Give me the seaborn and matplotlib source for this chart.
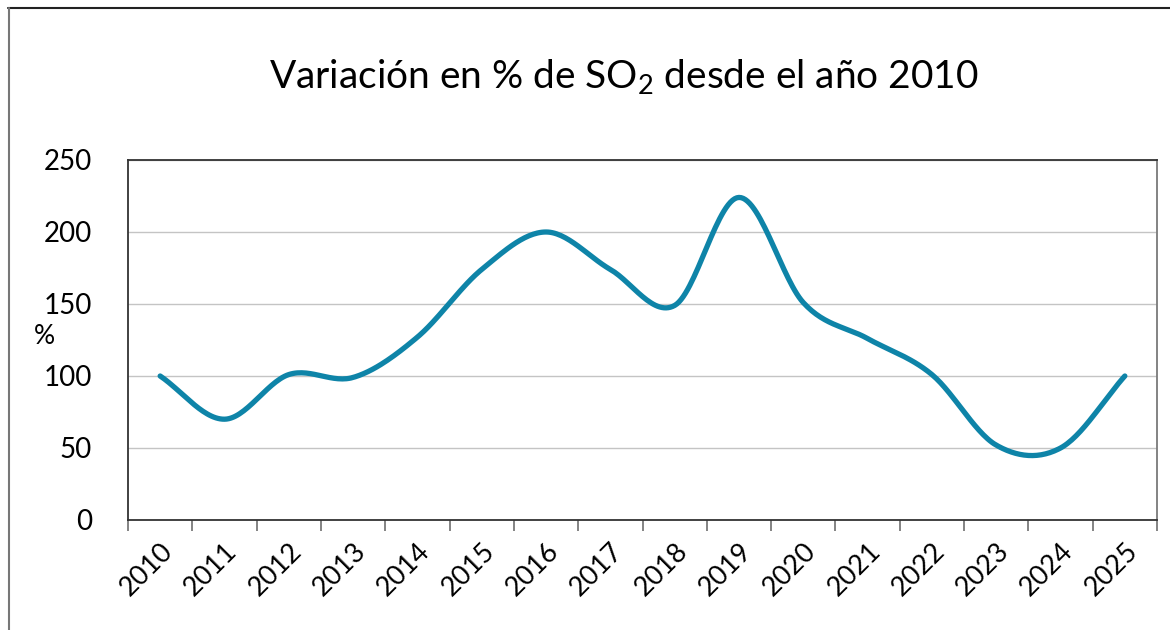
import numpy as np
import pandas as pd
import matplotlib
matplotlib.use('Agg')
import matplotlib.pyplot as plt
from matplotlib.lines import Line2D
import seaborn as sns

# Data
years = ['2010', '2011', '2012', '2013', '2014', '2015', '2016', '2017',
         '2018', '2019', '2020', '2021', '2022', '2023', '2024', '2025']
variation = [100, 70, 101, 99, 127, 174, 200, 174,
             149, 224, 151, 126, 101, 52, 50, 100]

title_text = 'Variación en % de SO$\\mathregular{_2}$ desde el año 2010'
line_color = '#0e84a8'

sns.set_theme(style='white')
plt.rcParams['font.family'] = ['Lato', 'DejaVu Sans']
plt.rcParams['mathtext.fontset'] = 'custom'
plt.rcParams['mathtext.rm'] = 'Lato'


def smooth_curve(y, steps=30):
    # Catmull-Rom smoothing, same look as a smoothed spreadsheet line
    y = np.asarray(y, dtype=float)
    n = len(y)
    pad = np.concatenate([[2 * y[0] - y[1]], y, [2 * y[-1] - y[-2]]])
    xs, ys = [], []
    for i in range(n - 1):
        p0, p1, p2, p3 = pad[i], pad[i + 1], pad[i + 2], pad[i + 3]
        m1 = (p2 - p0) / 2
        m2 = (p3 - p1) / 2
        t = np.linspace(0, 1, steps, endpoint=(i == n - 2))
        h00 = 2 * t**3 - 3 * t**2 + 1
        h10 = t**3 - 2 * t**2 + t
        h01 = -2 * t**3 + 3 * t**2
        h11 = t**3 - t**2
        xs.append(i + t)
        ys.append(h00 * p1 + h10 * m1 + h01 * p2 + h11 * m2)
    return np.concatenate(xs), np.concatenate(ys)


sx, sy = smooth_curve(variation)
df = pd.DataFrame({'pos': sx, 'valor': sy})

fig = plt.figure(figsize=(11.7, 6.3), dpi=100)
ax = fig.add_axes([128 / 1170, 1 - 520 / 630, 1029 / 1170, 360 / 630])

sns.lineplot(data=df, x='pos', y='valor', ax=ax, color=line_color,
             linewidth=3.8, solid_capstyle='round', sort=False)

ax.set_xlim(-0.5, len(years) - 0.5)
ax.set_ylim(0, 250)
ax.set_yticks([0, 50, 100, 150, 200, 250])
ax.yaxis.grid(True, color='#c4c4c4', linewidth=1)
ax.set_axisbelow(True)

ax.set_xticks(range(len(years)))
ax.set_xticklabels(years, rotation=45, ha='right', rotation_mode='anchor')
ax.set_xticks(np.arange(-0.5, len(years)), minor=True)
ax.tick_params(axis='x', which='major', length=0, pad=13, labelsize=19.5,
               colors='black')
ax.tick_params(axis='x', which='minor', length=8, width=1.2, color='#6e6e6e',
               bottom=True)
ax.tick_params(axis='y', length=0, pad=26, labelsize=20, colors='black')

for side in ['left', 'top', 'bottom']:
    ax.spines[side].set_color('#333333')
    ax.spines[side].set_linewidth(1.3)
ax.spines['right'].set_color('#7a7a7a')
ax.spines['right'].set_linewidth(1.3)

ax.set_xlabel('')
ax.set_ylabel('%', rotation=0, fontsize=19, color='black')
ax.yaxis.set_label_coords(-0.081, 0.475)

fig.text(624 / 1170, 1 - 76 / 630, title_text, ha='center', va='center',
         fontsize=28, color='black')

# outer chart frame (top and left edges visible in the reference)
fig.add_artist(Line2D([8 / 1170, 1], [1 - 8 / 630, 1 - 8 / 630],
                      transform=fig.transFigure, color='#222222', linewidth=1.5))
fig.add_artist(Line2D([9 / 1170, 9 / 1170], [0, 1 - 8 / 630],
                      transform=fig.transFigure, color='#777777', linewidth=1.5))

fig.savefig('out.png', dpi=100, facecolor='white')
